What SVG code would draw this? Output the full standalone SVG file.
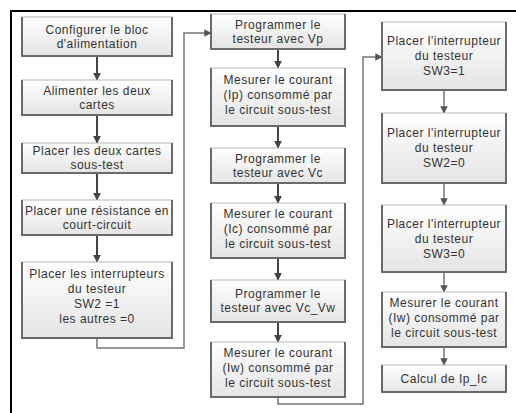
<svg xmlns="http://www.w3.org/2000/svg" width="516" height="413" viewBox="0 0 516 413">
<defs>
<linearGradient id="g" x1="0" y1="0" x2="0" y2="1">
<stop offset="0" stop-color="#ffffff"/>
<stop offset="1" stop-color="#e4e4e4"/>
</linearGradient>
<marker id="ah" viewBox="0 0 10 10" refX="9" refY="5" markerWidth="4" markerHeight="4" orient="auto" markerUnits="strokeWidth">
<path d="M0,0 L10,5 L0,10 z" fill="#444"/>
</marker>
<marker id="ah2" viewBox="0 0 10 10" refX="9" refY="5" markerWidth="5" markerHeight="5" orient="auto" markerUnits="strokeWidth">
<path d="M0,0 L10,5 L0,10 z" fill="#555"/>
</marker>
</defs>
<style>
.box{fill:url(#g);stroke:#b5b5b5;stroke-width:1}
.edge{fill:none;stroke:#6a6a6a;stroke-width:2}
.t{font-family:"Liberation Sans",Arial,sans-serif;font-size:12px;letter-spacing:0.5px;fill:#333;text-anchor:middle}
.c{fill:none;stroke:#444;stroke-width:2;marker-end:url(#ah)}
.c2{fill:none;stroke:#777;stroke-width:1.5;marker-end:url(#ah2)}
.frame{fill:none;stroke:#000;stroke-width:2}
</style>
<rect width="516" height="413" fill="#fff"/>
<path class="frame" d="M11,413 V11 H516"/>

<g id="connectors">
<path class="c" d="M97,56 V80"/>
<path class="c" d="M97,115 V143"/>
<path class="c" d="M97,173 V200"/>
<path class="c" d="M97,235 V262"/>
<path class="c2" d="M97,338 V348 H184 V33 H211"/>
<path class="c" d="M278,49 V68"/>
<path class="c" d="M278,126 V148"/>
<path class="c" d="M278,183 V203"/>
<path class="c" d="M278,258 V280"/>
<path class="c" d="M278,322 V342"/>
<path class="c2" d="M278,397 V404 H363 V57 H382"/>
<path class="c2" d="M444,90 V113"/>
<path class="c2" d="M444,183 V205"/>
<path class="c2" d="M444,272 V292"/>
<path class="c2" d="M444,347 V365"/>
</g>

<g id="n1"><rect class="box" x="22" y="17" width="150" height="39"/><path class="edge" d="M22,17 V56 H172 V17"/>
<text class="t" x="97" y="34">Configurer le bloc</text><text class="t" x="97" y="48">d'alimentation</text></g>
<g id="n2"><rect class="box" x="22" y="80" width="150" height="35"/><path class="edge" d="M22,80 V115 H172 V80"/>
<text class="t" x="97" y="95">Alimenter les deux</text><text class="t" x="97" y="109">cartes</text></g>
<g id="n3"><rect class="box" x="22" y="143" width="150" height="30"/><path class="edge" d="M22,143 V173 H172 V143"/>
<text class="t" x="97" y="155">Placer les deux cartes</text><text class="t" x="97" y="169">sous-test</text></g>
<g id="n4"><rect class="box" x="22" y="200" width="150" height="35"/><path class="edge" d="M22,200 V235 H172 V200"/>
<text class="t" x="97" y="215">Placer une résistance en</text><text class="t" x="97" y="229">court-circuit</text></g>
<g id="n5"><rect class="box" x="22" y="262" width="150" height="76"/><path class="edge" d="M22,262 V338 H172 V262"/>
<text class="t" x="97" y="278">Placer les interrupteurs</text><text class="t" x="97" y="293">du testeur</text><text class="t" x="97" y="308">SW2 =1</text><text class="t" x="97" y="323">les autres =0</text></g>

<g id="n6"><rect class="box" x="211" y="14" width="134" height="35"/><path class="edge" d="M211,14 V49 H345 V14"/>
<text class="t" x="278" y="29">Programmer le</text><text class="t" x="278" y="43">testeur avec Vp</text></g>
<g id="n7"><rect class="box" x="211" y="68" width="134" height="58"/><path class="edge" d="M211,68 V126 H345 V68"/>
<text class="t" x="278" y="84">Mesurer le courant</text><text class="t" x="278" y="99">(Ip) consommé par</text><text class="t" x="278" y="114">le circuit sous-test</text></g>
<g id="n8"><rect class="box" x="211" y="148" width="134" height="35"/><path class="edge" d="M211,148 V183 H345 V148"/>
<text class="t" x="278" y="163">Programmer le</text><text class="t" x="278" y="177">testeur avec Vc</text></g>
<g id="n9"><rect class="box" x="211" y="203" width="134" height="55"/><path class="edge" d="M211,203 V258 H345 V203"/>
<text class="t" x="278" y="218">Mesurer le courant</text><text class="t" x="278" y="233">(Ic) consommé par</text><text class="t" x="278" y="248">le circuit sous-test</text></g>
<g id="n10"><rect class="box" x="211" y="280" width="134" height="42"/><path class="edge" d="M211,280 V322 H345 V280"/>
<text class="t" x="278" y="298">Programmer le</text><text class="t" x="278" y="312">testeur avec Vc_Vw</text></g>
<g id="n11"><rect class="box" x="211" y="342" width="134" height="55"/><path class="edge" d="M211,342 V397 H345 V342"/>
<text class="t" x="278" y="357">Mesurer le courant</text><text class="t" x="278" y="372">(Iw) consommé par</text><text class="t" x="278" y="387">le circuit sous-test</text></g>

<g id="n12"><rect class="box" x="382" y="22" width="124" height="68"/><path class="edge" d="M382,22 V90 H506 V22"/>
<text class="t" x="444" y="45">Placer l'interrupteur</text><text class="t" x="444" y="60">du testeur</text><text class="t" x="444" y="75">SW3=1</text></g>
<g id="n13"><rect class="box" x="382" y="113" width="124" height="70"/><path class="edge" d="M382,113 V183 H506 V113"/>
<text class="t" x="444" y="137">Placer l'interrupteur</text><text class="t" x="444" y="152">du testeur</text><text class="t" x="444" y="167">SW2=0</text></g>
<g id="n14"><rect class="box" x="382" y="205" width="124" height="67"/><path class="edge" d="M382,205 V272 H506 V205"/>
<text class="t" x="444" y="228">Placer l'interrupteur</text><text class="t" x="444" y="243">du testeur</text><text class="t" x="444" y="258">SW3=0</text></g>
<g id="n15"><rect class="box" x="382" y="292" width="124" height="55"/><path class="edge" d="M382,292 V347 H506 V292"/>
<text class="t" x="444" y="307">Mesurer le courant</text><text class="t" x="444" y="322">(Iw) consommé par</text><text class="t" x="444" y="337">le circuit sous-test</text></g>
<g id="n16"><rect class="box" x="382" y="365" width="124" height="27"/><path class="edge" d="M382,365 V392 H506 V365"/>
<text class="t" x="444" y="383">Calcul de Ip_Ic</text></g>
</svg>
